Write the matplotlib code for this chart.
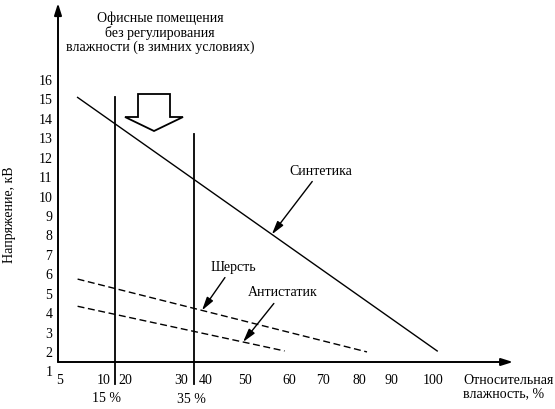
import numpy as np
import matplotlib
matplotlib.use('Agg')
import matplotlib.pyplot as plt
from matplotlib.patches import Polygon

plt.rcParams['font.family'] = ['Liberation Serif', 'DejaVu Serif']

# humidity tick values and their printed labels
x_ticks = [5, 10, 20, 30, 40, 50, 60, 70, 80, 90, 100]
y_ticks = list(range(1, 17))

# curves: (humidity, voltage) endpoints
synth_h = [7, 101]
synth_v = [15.05, 2.0]
wool_h = [7, 82.5]
wool_v = [5.7, 1.95]
anti_h = [7, 59]
anti_v = [4.3, 2.0]

# winter office humidity band
band_h = [15, 35]
band_top = [15.07, 13.17]

# the printed x axis is not linear: where each tick sits (px from left edge)
tick_px = [60, 104, 125, 181, 206, 245, 289, 323, 359, 391, 433]

W, H = 555, 410
PX_PER_KV = 19.43
KV1_PX = 371.4  # pixel row of the "1" tick


def _ext(a, b):
    a = np.asarray(a, float)
    b = np.asarray(b, float)
    s0 = (b[1] - b[0]) / (a[1] - a[0])
    s1 = (b[-1] - b[-2]) / (a[-1] - a[-2])
    a2 = np.concatenate([[a[0] - 1000], a, [a[-1] + 1000]])
    b2 = np.concatenate([[b[0] - 1000 * s0], b, [b[-1] + 1000 * s1]])
    return a2, b2


_hv, _hp = _ext(x_ticks, tick_px)


def fwd(h):
    return np.interp(np.asarray(h, float), _hv, _hp)


def inv(p):
    return np.interp(np.asarray(p, float), _hp, _hv)


def kv_at(px_row):
    return 1 + (KV1_PX - px_row) / PX_PER_KV


def on_line(hs, vs, h):
    # straight in screen space, so interpolate in screen position
    p0, p1, p = fwd(hs[0]), fwd(hs[1]), fwd(h)
    return vs[0] + (p - p0) / (p1 - p0) * (vs[1] - vs[0])


fig = plt.figure(figsize=(W / 100, H / 100), dpi=100)
y_lo, y_hi = 0.9, 19.9
bot_px = KV1_PX + (1 - y_lo) * PX_PER_KV
top_px = KV1_PX - (y_hi - 1) * PX_PER_KV
ax = fig.add_axes([58 / W, 1 - bot_px / H, (513 - 58) / W, (bot_px - top_px) / H])
ax.set_xscale('function', functions=(fwd, inv))
x_lo, x_hi = float(inv(58)), float(inv(513))
ax.set_xlim(x_lo, x_hi)
ax.set_ylim(y_lo, y_hi)
for s in ax.spines.values():
    s.set_visible(False)

ax.set_xticks(x_ticks)
ax.set_xticklabels([str(t) for t in x_ticks])
ax.set_yticks(y_ticks)
ax.set_yticklabels([str(t) for t in y_ticks])
ax.tick_params(axis='both', length=0, labelsize=10)
ax.tick_params(axis='x', pad=0.5)
ax.tick_params(axis='y', pad=4)
ax.minorticks_off()

# axes with arrow heads
axis_y = kv_at(363)
arrow = dict(arrowstyle='-|>,head_length=0.7,head_width=0.22', color='black',
             lw=1.4, shrinkA=0, shrinkB=0)
ax.annotate('', xy=(x_hi, axis_y), xytext=(x_lo, axis_y), arrowprops=arrow,
            annotation_clip=False)
ax.annotate('', xy=(x_lo, y_hi), xytext=(x_lo, axis_y), arrowprops=arrow,
            annotation_clip=False)

ax.plot(synth_h, synth_v, color='black', lw=1.0)
ax.plot(wool_h, wool_v, color='black', lw=1.0, ls=(0, (5, 2.6)))
ax.plot(anti_h, anti_v, color='black', lw=1.0, ls=(0, (5, 2.6)))

line_bottom = kv_at(385)
for h, top in zip(band_h, band_top):
    ax.plot([h, h], [line_bottom, top], color='black', lw=1.3, clip_on=False)

ax.text(float(inv(107)), kv_at(399), '15 %', ha='center', va='center', fontsize=10)
ax.text(float(inv(191)), kv_at(400), '35 %', ha='center', va='center', fontsize=10)

# hollow block arrow pointing into the band
xc = float(inv(154))
sl, sr = float(inv(138)), float(inv(170))
hl, hr = float(inv(125)), float(inv(183))
y_top, y_mid, y_tip = kv_at(95), kv_at(118), kv_at(132)
block = Polygon([(sl, y_top), (sr, y_top), (sr, y_mid), (hr, y_mid), (xc, y_tip),
                 (hl, y_mid), (sl, y_mid)], closed=True, fc='white', ec='black',
                lw=1.3, zorder=5)
ax.add_patch(block)

pointer = dict(arrowstyle='-|>,head_length=0.8,head_width=0.22', color='black',
               lw=1.0, shrinkA=2, shrinkB=0)
labels = [
    ('Синтетика', synth_h, synth_v, 56.1, inv(321), kv_at(171)),
    ('Шерсть', wool_h, wool_v, 38.4, inv(233), kv_at(267)),
    ('Антистатик', anti_h, anti_v, 49.5, inv(283), kv_at(293)),
]
for name, hs, vs, h_at, tx, ty in labels:
    ax.annotate(name, xy=(h_at, on_line(hs, vs, h_at)), xytext=(float(tx), ty),
                ha='center', va='center', fontsize=10, arrowprops=pointer)

fig.text(160 / W, 1 - 33 / H,
         'Офисные помещения\nбез регулирования\nвлажности (в зимних условиях)',
         ha='center', va='center', fontsize=10, linespacing=1.05)
fig.text(463 / W, 1 - 387 / H, 'Относительная\nвлажность, %', ha='left',
         va='center', fontsize=10, linespacing=0.95)
fig.text(10 / W, 1 - 215 / H, 'Напряжение, кВ', rotation=90, ha='center',
         va='center', fontsize=10)

fig.savefig('out.png', dpi=100)
